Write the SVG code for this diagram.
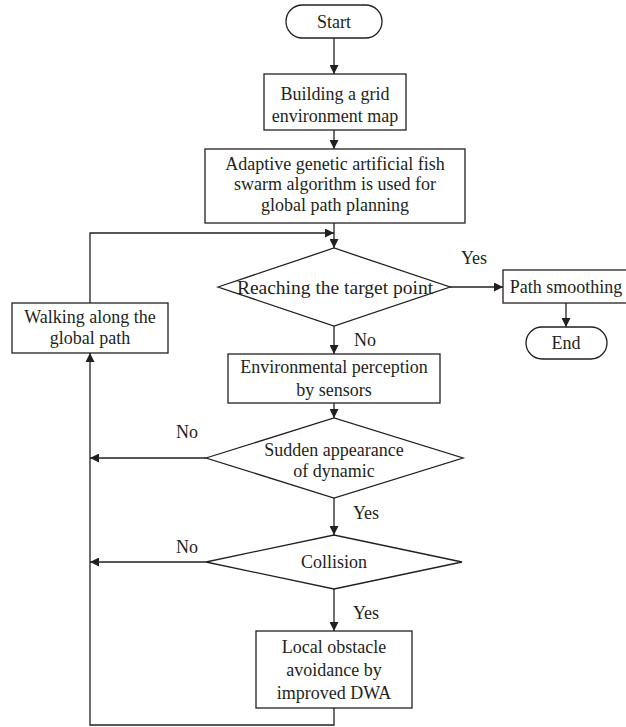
<svg xmlns="http://www.w3.org/2000/svg" width="626" height="727" viewBox="0 0 626 727">
<defs>
<style>
.s{fill:#fff;stroke:#231f20;stroke-width:1.3}
.c{fill:none;stroke:#231f20;stroke-width:1.3}
text{font-family:"Liberation Serif","Times New Roman",serif;font-size:18px;fill:#231f20;text-anchor:middle}
.big{font-size:19.5px}
</style>
<marker id="a" viewBox="0 0 10 10" refX="10" refY="5" markerWidth="9" markerHeight="9" markerUnits="userSpaceOnUse" orient="auto"><path d="M0,0L10,5L0,10z" fill="#231f20"/></marker>
</defs>
<rect width="626" height="727" fill="#fff"/>
<g id="connectors">
<path class="c" d="M334,38V74" marker-end="url(#a)"/>
<path class="c" d="M334,130V149" marker-end="url(#a)"/>
<path class="c" d="M334,223V248" marker-end="url(#a)"/>
<path class="c" d="M90,303V233H334" marker-end="url(#a)"/>
<path class="c" d="M450,287H503" marker-end="url(#a)"/>
<path class="c" d="M566,303V327" marker-end="url(#a)"/>
<path class="c" d="M334,326V354" marker-end="url(#a)"/>
<path class="c" d="M334,403V418" marker-end="url(#a)"/>
<path class="c" d="M206,458H90" marker-end="url(#a)"/>
<path class="c" d="M334,498V535" marker-end="url(#a)"/>
<path class="c" d="M206,562H90" marker-end="url(#a)"/>
<path class="c" d="M334,589V631" marker-end="url(#a)"/>
<path class="c" d="M334,708V725H90V353" marker-end="url(#a)"/>
<text x="474" y="264">Yes</text>
<text x="365" y="346">No</text>
<text x="187" y="438">No</text>
<text x="366" y="519">Yes</text>
<text x="187" y="553">No</text>
<text x="366" y="619">Yes</text>
</g>
<g id="start"><rect class="s" x="286" y="5" width="96" height="33" rx="16.5"/><text x="334" y="28">Start</text></g>
<g id="build"><rect class="s" x="264" y="74" width="142" height="56"/><text x="335" y="100">Building a grid</text><text x="335" y="122">environment map</text></g>
<g id="global"><rect class="s" x="205" y="149" width="260" height="74"/><text x="335" y="170">Adaptive genetic artificial fish</text><text x="335" y="190">swarm algorithm is used for</text><text x="335" y="211">global path planning</text></g>
<g id="reach"><polygon class="s" points="218,287 334,248 450,287 334,326"/><text class="big" x="335" y="294">Reaching the target point</text></g>
<g id="smooth"><rect class="s" x="503" y="270" width="126" height="33"/><text x="566" y="293">Path smoothing</text></g>
<g id="end"><rect class="s" x="526" y="327" width="81" height="32" rx="16"/><text x="566" y="349">End</text></g>
<g id="walk"><rect class="s" x="12" y="303" width="156" height="50"/><text x="90" y="323">Walking along the</text><text x="90" y="344">global path</text></g>
<g id="env"><rect class="s" x="228" y="354" width="212" height="49"/><text x="334" y="373">Environmental perception</text><text x="334" y="396">by sensors</text></g>
<g id="sudden"><polygon class="s" points="206,458 334,418 463,458 334,498"/><text x="334" y="456">Sudden appearance</text><text x="334" y="477">of dynamic</text></g>
<g id="collision"><polygon class="s" points="206,562 334,535 462,562 334,589"/><text x="334" y="568">Collision</text></g>
<g id="local"><rect class="s" x="256" y="631" width="156" height="77"/><text x="334" y="653">Local obstacle</text><text x="334" y="676">avoidance by</text><text x="334" y="699">improved DWA</text></g>
</svg>
